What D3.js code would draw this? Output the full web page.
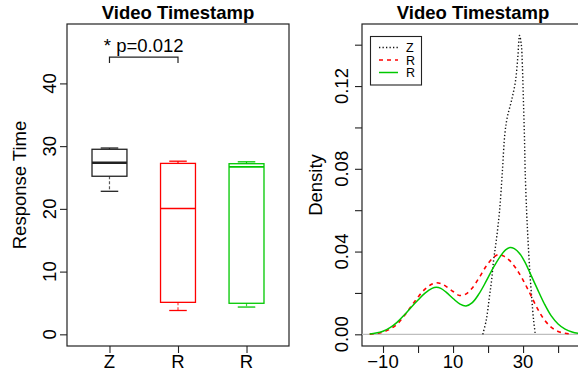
<!DOCTYPE html>
<html>
<head>
<meta charset="utf-8">
<script src="https://cdn.jsdelivr.net/npm/d3@7"></script>
<style>
  html, body { margin: 0; padding: 0; background: #fff; }
  svg { display: block; font-family: "Liberation Sans", Arial, Helvetica, sans-serif; }
</style>
</head>
<body>
<svg id="chart" width="578" height="374"></svg>
<script>
// ---- Box plot data: response time per group ----
const groups = ["Z", "R", "R"];
const groupColors = ["#222222", "#ff0000", "#00c800"];
const whiskerLow  = [22.8, 3.8, 4.35];
const quart1      = [25.2, 5.1, 4.95];
const medians     = [27.35, 20.05, 26.7];
const quart3      = [29.5, 27.25, 27.2];
const whiskerHigh = [29.7, 27.6, 27.5];
const responseTicks = [0, 10, 20, 30, 40];
const sigPair = [0, 1];
const sigLevel = 44.2;
const sigLabel = "* p=0.012";

// ---- Density curves: Video Timestamp ----
const zX = [18.5, 19.5, 20.3, 21.0, 21.6, 22.4, 23.3, 24.1, 24.8, 25.5, 26.7, 27.8, 28.5, 29.0, 29.5, 29.8, 30.1, 30.4, 30.6, 31.0, 31.4, 31.9, 32.5, 33.0, 33.5];
const zD = [0.0, 0.007, 0.017, 0.026, 0.036, 0.046, 0.060, 0.079, 0.097, 0.105, 0.113, 0.122, 0.134, 0.1445, 0.140, 0.130, 0.113, 0.095, 0.079, 0.060, 0.046, 0.031, 0.017, 0.007, 0.0];
const rX = [-13.8, -12, -10, -8, -6, -4, -2, 0, 2, 4, 5.2, 6.5, 8, 10, 11.8, 13.5, 15.5, 17.5, 19.5, 21.5, 23, 24.5, 26.2, 28, 30, 32, 34, 36, 38, 40, 42, 44];
const rD = [0.0001, 0.0004, 0.0011, 0.0025, 0.0049, 0.0088, 0.0135, 0.0180, 0.0218, 0.0243, 0.0249, 0.0245, 0.0232, 0.0207, 0.0188, 0.0193, 0.0224, 0.0275, 0.0330, 0.0371, 0.0386, 0.0378, 0.0356, 0.0318, 0.0262, 0.0196, 0.0128, 0.0072, 0.0035, 0.0014, 0.0005, 0.0001];
const gX = [-13.8, -12, -10, -8, -6, -4, -2, 0, 2, 4, 5.2, 6.5, 8, 10, 12, 13.7, 15.5, 17.5, 19.5, 21.5, 23.5, 25, 26.3, 27.5, 29, 30.5, 32, 34, 36, 38, 40, 42, 44, 46, 48];
const gD = [0.0002, 0.0006, 0.0015, 0.0032, 0.0058, 0.0092, 0.0130, 0.0166, 0.0199, 0.0222, 0.0227, 0.0222, 0.0204, 0.0173, 0.0146, 0.0137, 0.0153, 0.0198, 0.0258, 0.0322, 0.0377, 0.0408, 0.0420, 0.0414, 0.0391, 0.0350, 0.0296, 0.0222, 0.0150, 0.0090, 0.0050, 0.0025, 0.0011, 0.0004, 0.0001];
const densityTicks = [0, 0.02, 0.04, 0.06, 0.08, 0.10, 0.12, 0.14];
const densityLabels = {0: "0.00", 0.04: "0.04", 0.08: "0.08", 0.12: "0.12"};
const timeTicks = [-10, 0, 10, 20, 30, 40];
const timeLabels = {"-10": "\u221210", "10": "10", "30": "30"};
const legendLabels = ["Z", "R", "R"];

const svg = d3.select("#chart");
const FS = 18.5;
const title = "Video Timestamp";

// ================= Left panel: box plot =================
const L = {left: 67, right: 289, top: 24, bottom: 346};
const bx = d3.scaleLinear().domain([0.38, 3.62]).range([L.left, L.right]);
const by = d3.scaleLinear().domain([-1.86, 49.47]).range([L.bottom, L.top]);
const left = svg.append("g");

left.append("rect")
  .attr("x", L.left).attr("y", L.top)
  .attr("width", L.right - L.left).attr("height", L.bottom - L.top)
  .attr("fill", "none").attr("stroke", "#222").attr("stroke-width", 1.2);

left.append("text")
  .attr("x", (L.left + L.right) / 2).attr("y", 19)
  .attr("text-anchor", "middle").attr("font-weight", "bold")
  .attr("font-size", FS).text(title);

// y axis
const yAxisL = left.append("g").attr("transform", `translate(${L.left},0)`)
  .call(d3.axisLeft(by).tickValues(responseTicks).tickSize(7).tickFormat(""));
yAxisL.select(".domain").remove();
yAxisL.selectAll("line").attr("stroke", "#222").attr("stroke-width", 1.1);
left.selectAll(".ytl").data(responseTicks).join("text")
  .attr("class", "ytl")
  .attr("transform", d => `translate(56,${by(d)}) rotate(-90)`)
  .attr("text-anchor", "middle").attr("font-size", FS).text(d => d);

left.append("text")
  .attr("transform", `translate(26,${(L.top + L.bottom) / 2}) rotate(-90)`)
  .attr("text-anchor", "middle").attr("font-size", FS).text("Response Time");

// x axis
const xAxisL = left.append("g").attr("transform", `translate(0,${L.bottom})`)
  .call(d3.axisBottom(bx).tickValues([1, 2, 3]).tickSize(7).tickFormat(""));
xAxisL.select(".domain").remove();
xAxisL.selectAll("line").attr("stroke", "#222").attr("stroke-width", 1.1);
left.selectAll(".xtl").data(groups).join("text")
  .attr("class", "xtl")
  .attr("x", (d, i) => bx(i + 1)).attr("y", 368)
  .attr("text-anchor", "middle").attr("font-size", FS).text(d => d);

// boxes
const halfBox = 0.255, halfStaple = 0.128;
groups.forEach((g, i) => {
  const c = groupColors[i], cx = i + 1;
  const gb = left.append("g").attr("stroke", c).attr("fill", "none");
  // whiskers
  gb.append("line").attr("x1", bx(cx)).attr("x2", bx(cx))
    .attr("y1", by(quart1[i])).attr("y2", by(whiskerLow[i]))
    .attr("stroke-width", 1.2).attr("stroke-dasharray", "3,2").attr("opacity", 0.75);
  gb.append("line").attr("x1", bx(cx)).attr("x2", bx(cx))
    .attr("y1", by(quart3[i])).attr("y2", by(whiskerHigh[i]))
    .attr("stroke-width", 1.2).attr("stroke-dasharray", "3,2");
  // staples
  [whiskerLow[i], whiskerHigh[i]].forEach(v => {
    gb.append("line").attr("x1", bx(cx - halfStaple)).attr("x2", bx(cx + halfStaple))
      .attr("y1", by(v)).attr("y2", by(v)).attr("stroke-width", 1.3);
  });
  // box
  gb.append("rect")
    .attr("x", bx(cx - halfBox)).attr("width", bx(cx + halfBox) - bx(cx - halfBox))
    .attr("y", by(quart3[i])).attr("height", by(quart1[i]) - by(quart3[i]))
    .attr("stroke-width", 1.3);
  // median
  gb.append("line").attr("x1", bx(cx - halfBox)).attr("x2", bx(cx + halfBox))
    .attr("y1", by(medians[i])).attr("y2", by(medians[i]))
    .attr("stroke-width", i === 0 ? 2.4 : 1.6);
});

// significance bracket
const sx1 = bx(sigPair[0] + 1), sx2 = bx(sigPair[1] + 1);
left.append("path")
  .attr("d", `M${sx1},${by(sigLevel - 0.95)}V${by(sigLevel)}H${sx2}V${by(sigLevel - 0.95)}`)
  .attr("fill", "none").attr("stroke", "#222").attr("stroke-width", 1.2);
left.append("text")
  .attr("x", (sx1 + sx2) / 2).attr("y", by(sigLevel) - 5)
  .attr("text-anchor", "middle").attr("font-size", FS).text(sigLabel);

// ================= Right panel: density plot =================
const R = {left: 362, right: 584, top: 24, bottom: 346};
const dx = d3.scaleLinear().domain([-16, 47.4]).range([R.left, R.right]);
const dy = d3.scaleLinear().domain([-0.00565, 0.15]).range([R.bottom, R.top]);
const right = svg.append("g");

right.append("rect")
  .attr("x", R.left).attr("y", R.top)
  .attr("width", R.right - R.left).attr("height", R.bottom - R.top)
  .attr("fill", "none").attr("stroke", "#222").attr("stroke-width", 1.2);

right.append("text")
  .attr("x", (R.left + R.right) / 2).attr("y", 19)
  .attr("text-anchor", "middle").attr("font-weight", "bold")
  .attr("font-size", FS).text(title);

const yAxisR = right.append("g").attr("transform", `translate(${R.left},0)`)
  .call(d3.axisLeft(dy).tickValues(densityTicks).tickSize(7).tickFormat(""));
yAxisR.select(".domain").remove();
yAxisR.selectAll("line").attr("stroke", "#222").attr("stroke-width", 1.1);
right.selectAll(".dyl").data(densityTicks.filter(t => densityLabels[t] !== undefined)).join("text")
  .attr("class", "dyl")
  .attr("transform", d => `translate(348,${dy(d)}) rotate(-90)`)
  .attr("text-anchor", "middle").attr("font-size", FS).text(d => densityLabels[d]);

right.append("text")
  .attr("transform", `translate(322,${(R.top + R.bottom) / 2}) rotate(-90)`)
  .attr("text-anchor", "middle").attr("font-size", FS).text("Density");

const xAxisR = right.append("g").attr("transform", `translate(0,${R.bottom})`)
  .call(d3.axisBottom(dx).tickValues(timeTicks).tickSize(7).tickFormat(""));
xAxisR.select(".domain").remove();
xAxisR.selectAll("line").attr("stroke", "#222").attr("stroke-width", 1.1);
right.selectAll(".dxl").data(timeTicks.filter(t => timeLabels[t] !== undefined)).join("text")
  .attr("class", "dxl")
  .attr("x", d => dx(d)).attr("y", 368)
  .attr("text-anchor", "middle").attr("font-size", FS).text(d => timeLabels[d]);

// zero baseline
right.append("line")
  .attr("x1", R.left).attr("x2", R.right)
  .attr("y1", dy(0)).attr("y2", dy(0))
  .attr("stroke", "#bebebe").attr("stroke-width", 1.2);

right.append("clipPath").attr("id", "dclip")
  .append("rect").attr("x", R.left).attr("y", R.top)
  .attr("width", R.right - R.left).attr("height", R.bottom - R.top);

const line = d3.line().x(d => dx(d[0])).y(d => dy(d[1])).curve(d3.curveCatmullRom.alpha(0.5));
const series = [
  {xs: zX, ys: zD, color: "#111", dash: "1.3,2.2", width: 1.4},
  {xs: rX, ys: rD, color: "#ff0000", dash: "4,4", width: 1.6},
  {xs: gX, ys: gD, color: "#00c800", dash: null, width: 1.5}
];
const curves = right.append("g").attr("clip-path", "url(#dclip)");
series.forEach(s => {
  curves.append("path")
    .datum(s.xs.map((x, i) => [x, s.ys[i]]))
    .attr("d", line)
    .attr("fill", "none").attr("stroke", s.color)
    .attr("stroke-width", s.width)
    .attr("stroke-dasharray", s.dash);
});

// legend
const lg = right.append("g");
lg.append("rect").attr("x", 370.5).attr("y", 36.5).attr("width", 51).attr("height", 48.5)
  .attr("fill", "#fff").attr("stroke", "#222").attr("stroke-width", 1.1);
const rowY = [47.5, 60, 72.5];
legendLabels.forEach((lab, i) => {
  const s = series[i];
  lg.append("line").attr("x1", 379).attr("x2", 398).attr("y1", rowY[i]).attr("y2", rowY[i])
    .attr("stroke", s.color).attr("stroke-width", s.width).attr("stroke-dasharray", s.dash);
  lg.append("text").attr("x", 406).attr("y", rowY[i] + 4.5)
    .attr("font-size", 12.5).text(lab);
});
</script>
</body>
</html>
